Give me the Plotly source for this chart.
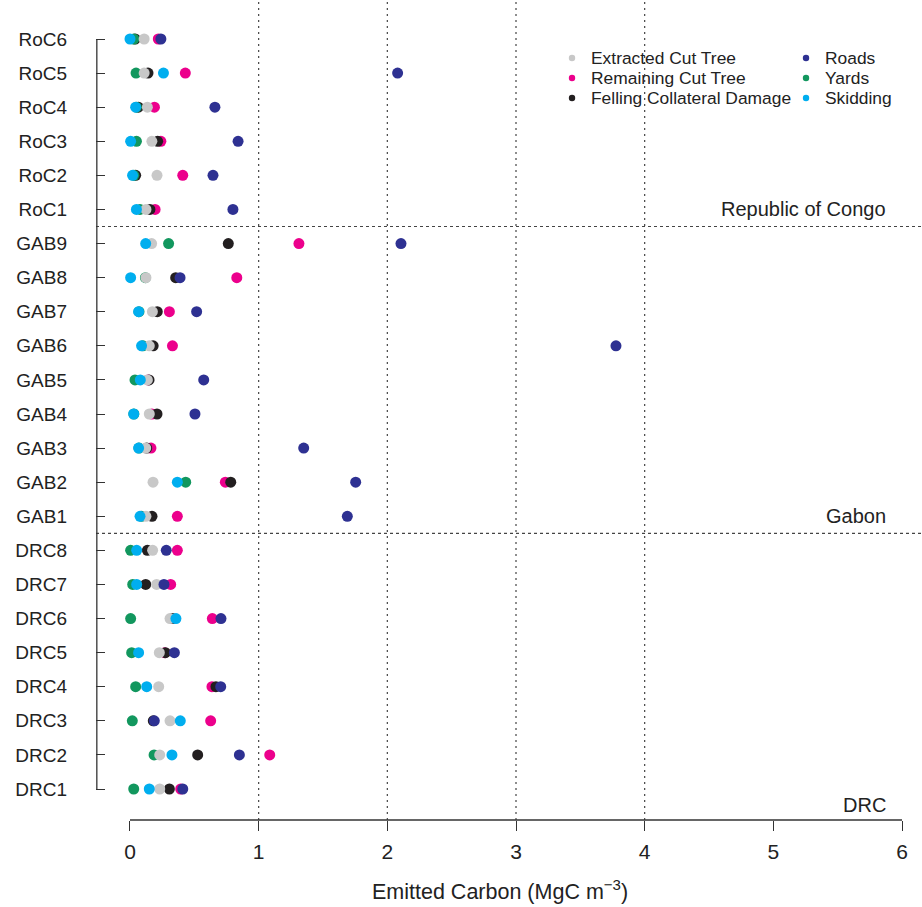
import plotly.graph_objects as go

labels = ["RoC6", "RoC5", "RoC4", "RoC3", "RoC2", "RoC1",
          "GAB9", "GAB8", "GAB7", "GAB6", "GAB5", "GAB4", "GAB3", "GAB2", "GAB1",
          "DRC8", "DRC7", "DRC6", "DRC5", "DRC4", "DRC3", "DRC2", "DRC1"]

extracted = [0.11, 0.11, 0.135, 0.17, 0.21, 0.124,
             0.168, 0.124, 0.174, 0.15, 0.135, 0.15, 0.122, 0.179, 0.124,
             0.176, 0.207, 0.311, 0.228, 0.223, 0.311, 0.231, 0.231]
remaining = [0.22, 0.43, 0.19, 0.24, 0.41, 0.195,
             1.313, 0.83, 0.306, 0.33, 0.14, 0.17, 0.163, 0.741, 0.368,
             0.368, 0.316, 0.64, 0.27, 0.637, 0.627, 1.086, 0.394]
felling = [0.04, 0.14, 0.065, 0.215, 0.044, 0.155,
           0.764, 0.355, 0.212, 0.18, 0.148, 0.21, 0.13, 0.783, 0.171,
           0.135, 0.122, 0.33, 0.275, 0.668, 0.181, 0.526, 0.306]
roads = [0.24, 2.08, 0.66, 0.84, 0.645, 0.80,
         2.106, 0.389, 0.518, 3.777, 0.573, 0.505, 1.35, 1.754, 1.689,
         0.282, 0.264, 0.707, 0.345, 0.705, 0.189, 0.85, 0.41]
yards = [0.03, 0.047, 0.05, 0.05, 0.03, 0.078,
         0.30, 0.12, 0.07, 0.10, 0.039, 0.03, 0.07, 0.433, 0.09,
         0.005, 0.021, 0.005, 0.013, 0.044, 0.018, 0.187, 0.029]
skidding = [0.0, 0.26, 0.044, 0.005, 0.02, 0.05,
            0.122, 0.005, 0.067, 0.09, 0.08, 0.029, 0.067, 0.368, 0.078,
            0.052, 0.052, 0.357, 0.067, 0.13, 0.391, 0.326, 0.15]

groups = [("Republic of Congo", "RoC1", 0.0), ("Gabon", "GAB1", 0.0), ("DRC", "DRC1", -0.47)]
separators_after = ["RoC1", "GAB1"]
x_title = "Emitted Carbon (MgC m<sup>−3</sup>)"

series = {
    "Extracted Cut Tree": (extracted, "#C8C8C8"),
    "Remaining Cut Tree": (remaining, "#EC008C"),
    "Felling Collateral Damage": (felling, "#231F20"),
    "Roads": (roads, "#2E3192"),
    "Yards": (yards, "#12975E"),
    "Skidding": (skidding, "#00AEEF"),
}
draw_order = ["Remaining Cut Tree", "Felling Collateral Damage", "Yards",
              "Extracted Cut Tree", "Roads", "Skidding"]
legend_cols = [["Extracted Cut Tree", "Remaining Cut Tree", "Felling Collateral Damage"],
               ["Roads", "Yards", "Skidding"]]

n = len(labels)
ypos = [n - i for i in range(n)]
ymap = dict(zip(labels, ypos))

FONT = "Liberation Sans, Arial, Helvetica, sans-serif"
TXT = "#222222"
fig = go.Figure()

for name in draw_order:
    vals, col = series[name]
    fig.add_trace(go.Scatter(x=vals, y=ypos, mode="markers", name=name, showlegend=False,
                             marker=dict(size=11, color=col, line=dict(width=0))))

shapes = []
annotations = []
for xv in [1, 2, 3, 4]:
    shapes.append(dict(type="line", xref="x", yref="paper", x0=xv, x1=xv, y0=0, y1=1,
                       line=dict(color="#444444", width=1.2, dash="2px,4px")))
for lab in separators_after:
    yv = ymap[lab] - 0.5
    shapes.append(dict(type="line", xref="paper", yref="y", x0=0, x1=1, y0=yv, y1=yv,
                       line=dict(color="#444444", width=1.2, dash="3px,3px")))
shapes.append(dict(type="line", xref="x", yref="paper", x0=0, x1=6, y0=0, y1=0,
                   line=dict(color="#333333", width=1.3)))
shapes.append(dict(type="line", xref="paper", yref="y", x0=0.001, x1=0.001, y0=min(ypos), y1=max(ypos),
                   line=dict(color="#333333", width=1.3)))

# legend (two columns), drawn as small circles + text
leg_x = [0.5763, 0.8596]
leg_y0, leg_dy = 0.9293, 0.02439
for ci, col_names in enumerate(legend_cols):
    for ri, name in enumerate(col_names):
        yy = leg_y0 - ri * leg_dy
        shapes.append(dict(type="circle", xref="paper", yref="paper",
                           xsizemode="pixel", ysizemode="pixel",
                           xanchor=leg_x[ci], yanchor=yy, x0=-3.2, x1=3.2, y0=-3.2, y1=3.2,
                           fillcolor=series[name][1], line=dict(width=0)))
        annotations.append(dict(x=leg_x[ci], xref="paper", xanchor="left", xshift=17,
                                y=yy, yref="paper", yanchor="middle", text=name,
                                showarrow=False, font=dict(family=FONT, size=17.4, color=TXT)))

for text, lab, off in groups:
    annotations.append(dict(x=1, xref="paper", xanchor="right", xshift=-34,
                            y=ymap[lab] + off, yref="y", yanchor="middle", text=text,
                            showarrow=False, font=dict(family=FONT, size=20, color=TXT)))

# x-axis title, centred where the reference places it
annotations.append(dict(x=0.4897, xref="paper", xanchor="center", y=-0.0854, yref="paper",
                        yanchor="middle", text=x_title, showarrow=False,
                        font=dict(family=FONT, size=21.5, color=TXT)))

fig.update_layout(
    width=922, height=907,
    margin=dict(l=96, r=0, t=0, b=87),
    paper_bgcolor="white", plot_bgcolor="white",
    font=dict(family=FONT, color=TXT),
    showlegend=False,
    shapes=shapes, annotations=annotations,
    xaxis=dict(range=[-0.2642, 6.1554], tickvals=[0, 1, 2, 3, 4, 5, 6],
               ticks="outside", ticklen=10, tickwidth=1.3, tickcolor="#333333",
               ticklabelstandoff=3,
               showgrid=False, zeroline=False, showline=False,
               tickfont=dict(size=21, family=FONT, color=TXT)),
    yaxis=dict(range=[0.0906, 24.144], tickvals=ypos, ticktext=labels,
               ticks="inside", ticklen=9, tickwidth=1.3, tickcolor="#333333",
               ticklabelstandoff=28,
               showgrid=False, zeroline=False, showline=False,
               tickfont=dict(size=19, family=FONT, color=TXT)),
)

fig.write_html("out.html")
